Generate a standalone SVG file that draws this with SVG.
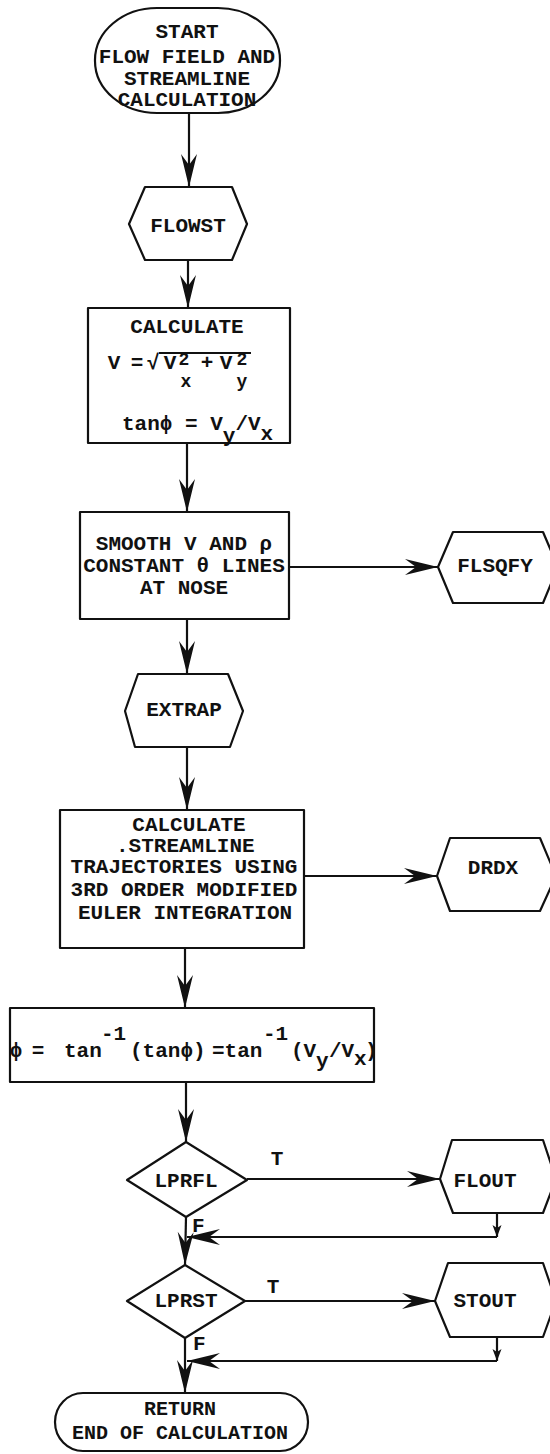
<svg xmlns="http://www.w3.org/2000/svg" width="550" height="1454" viewBox="0 0 550 1454">
  <style>
    .shape { fill: #fff; stroke: #111; stroke-width: 2.2; stroke-linejoin: round; }
    .wire { fill: none; stroke: #111; stroke-width: 2.2; }
    text { font-family: "Liberation Mono", "DejaVu Sans Mono", monospace; font-size: 21px; font-weight: bold; fill: #111; }
    .mid { text-anchor: middle; }
    .idx { font-size: 18px; }
    .term { font-size: 20px; }
  </style>
  <defs>
    <marker id="arr" markerUnits="userSpaceOnUse" viewBox="-34 -9 35 18" markerWidth="35" markerHeight="18" refX="0" refY="0" orient="auto">
      <path d="M0,0 L-33,-8 L-22,0 L-33,8 Z" fill="#111"/>
    </marker>
    <marker id="arrs" markerUnits="userSpaceOnUse" viewBox="-13 -5 14 10" markerWidth="14" markerHeight="10" refX="0" refY="0" orient="auto">
      <path d="M0,0 L-12,-4.5 L-9,0 L-12,4.5 Z" fill="#111"/>
    </marker>
  </defs>

  <rect width="550" height="1454" fill="#fff"/>

  <!-- connectors -->
  <g id="connectors">
    <line class="wire" x1="189" y1="113" x2="189" y2="187" marker-end="url(#arr)"/>
    <line class="wire" x1="188" y1="260" x2="188" y2="308" marker-end="url(#arr)"/>
    <line class="wire" x1="187" y1="443" x2="187" y2="512" marker-end="url(#arr)"/>
    <line class="wire" x1="289" y1="567" x2="438" y2="567" marker-end="url(#arr)"/>
    <line class="wire" x1="187" y1="619" x2="187" y2="674" marker-end="url(#arr)"/>
    <line class="wire" x1="187" y1="747" x2="187" y2="810" marker-end="url(#arr)"/>
    <line class="wire" x1="304" y1="876" x2="437" y2="876" marker-end="url(#arr)"/>
    <line class="wire" x1="185" y1="948" x2="185" y2="1008" marker-end="url(#arr)"/>
    <line class="wire" x1="186" y1="1082" x2="186" y2="1142" marker-end="url(#arr)"/>
    <line class="wire" x1="247" y1="1179" x2="440" y2="1179" marker-end="url(#arr)"/>
    <line class="wire" x1="497" y1="1213" x2="497" y2="1237" marker-end="url(#arrs)"/>
    <line class="wire" x1="497" y1="1237" x2="187" y2="1237" marker-end="url(#arr)"/>
    <line class="wire" x1="186" y1="1217" x2="185" y2="1265" marker-end="url(#arr)"/>
    <line class="wire" x1="245" y1="1301" x2="435" y2="1301" marker-end="url(#arr)"/>
    <line class="wire" x1="497" y1="1337" x2="497" y2="1361" marker-end="url(#arrs)"/>
    <line class="wire" x1="497" y1="1361" x2="187" y2="1361" marker-end="url(#arr)"/>
    <line class="wire" x1="185" y1="1338" x2="185" y2="1393" marker-end="url(#arr)"/>
    <text x="277" y="1165" class="mid">T</text>
    <text x="192" y="1232">F</text>
    <text x="273" y="1293" class="mid">T</text>
    <text x="193" y="1350">F</text>
  </g>

  <!-- terminal: start -->
  <g id="start">
    <rect class="shape" x="95" y="8" width="185" height="105" rx="62" ry="52"/>
    <text x="187" y="38" class="mid">START</text>
    <text x="187" y="63" class="mid">FLOW FIELD AND</text>
    <text x="187" y="85" class="mid">STREAMLINE</text>
    <text x="187" y="106" class="mid">CALCULATION</text>
  </g>

  <g id="flowst">
    <polygon class="shape" points="129,224 145,187 232,187 247,224 232,260 145,260"/>
    <text x="188" y="232" class="mid">FLOWST</text>
  </g>

  <g id="calc-velocity">
    <rect class="shape" x="88" y="308" width="202" height="135"/>
    <text x="187" y="333" class="mid">CALCULATE</text>
    <text x="114" y="369" class="mid">V</text>
    <text x="137" y="369" class="mid">=</text>
    <text x="153" y="369" class="mid">√</text>
    <line class="wire" x1="159" y1="353" x2="251" y2="353"/>
    <text x="170" y="369" class="mid">V</text>
    <text x="184" y="365" class="mid idx">2</text>
    <text x="186" y="387" class="mid idx">x</text>
    <text x="207" y="369" class="mid">+</text>
    <text x="226" y="369" class="mid">V</text>
    <text x="242" y="365" class="mid idx">2</text>
    <text x="242" y="387" class="mid idx">y</text>
    <text x="122" y="430">tanϕ = V</text>
    <text x="222.8" y="442">y</text>
    <text x="235.4" y="430">/V</text>
    <text x="260.6" y="440">x</text>
  </g>

  <g id="smooth">
    <rect class="shape" x="80" y="512" width="209" height="107"/>
    <text x="184" y="550" class="mid">SMOOTH V AND ρ</text>
    <text x="184" y="572" class="mid">CONSTANT θ LINES</text>
    <text x="184" y="594" class="mid">AT NOSE</text>
  </g>

  <g id="flsqfy">
    <polygon class="shape" points="438,567 453,532 543,532 558,567 543,603 453,603"/>
    <text x="495" y="572" class="mid">FLSQFY</text>
  </g>

  <g id="extrap">
    <polygon class="shape" points="125,711 138,674 228,674 243,711 230,747 135,747"/>
    <text x="184" y="716" class="mid">EXTRAP</text>
  </g>

  <g id="streamline">
    <rect class="shape" x="60" y="810" width="244" height="138"/>
    <text x="189" y="831" class="mid">CALCULATE</text>
    <text x="116" y="852">.STREAMLINE</text>
    <text x="184" y="873" class="mid">TRAJECTORIES USING</text>
    <text x="184" y="896" class="mid">3RD ORDER MODIFIED</text>
    <text x="185" y="919" class="mid">EULER INTEGRATION</text>
  </g>

  <g id="drdx">
    <polygon class="shape" points="437,876 450,838 540,838 556,876 540,911 450,911"/>
    <text x="493" y="874" class="mid">DRDX</text>
  </g>

  <g id="phi">
    <rect class="shape" x="10" y="1008" width="364" height="74"/>
    <text x="16" y="1057" class="mid">ϕ</text>
    <text x="38" y="1057" class="mid">=</text>
    <text x="64" y="1057">tan</text>
    <text x="101" y="1040">-1</text>
    <text x="130" y="1057">(tanϕ)</text>
    <text x="212" y="1057">=tan</text>
    <text x="263" y="1040">-1</text>
    <text x="291" y="1057">(V</text>
    <text x="316" y="1067">y</text>
    <text x="329" y="1057">/V</text>
    <text x="354" y="1065">x</text>
    <text x="365" y="1057">)</text>
  </g>

  <g id="lprfl">
    <polygon class="shape" points="186,1142 247,1180 186,1217 127,1180"/>
    <text x="186" y="1187" class="mid">LPRFL</text>
  </g>

  <g id="flout">
    <polygon class="shape" points="440,1179 452,1140 543,1140 556,1179 543,1213 453,1213"/>
    <text x="485" y="1187" class="mid">FLOUT</text>
  </g>

  <g id="lprst">
    <polygon class="shape" points="185,1265 245,1301 185,1338 127,1301"/>
    <text x="186" y="1307" class="mid">LPRST</text>
  </g>

  <g id="stout">
    <polygon class="shape" points="435,1301 448,1263 543,1263 556,1301 543,1337 450,1337"/>
    <text x="485" y="1307" class="mid">STOUT</text>
  </g>

  <!-- terminal: return -->
  <g id="return">
    <rect class="shape" x="55" y="1393" width="253" height="58" rx="28" ry="29"/>
    <text x="180" y="1415" class="mid term">RETURN</text>
    <text x="180" y="1439" class="mid term">END OF CALCULATION</text>
  </g>
</svg>
